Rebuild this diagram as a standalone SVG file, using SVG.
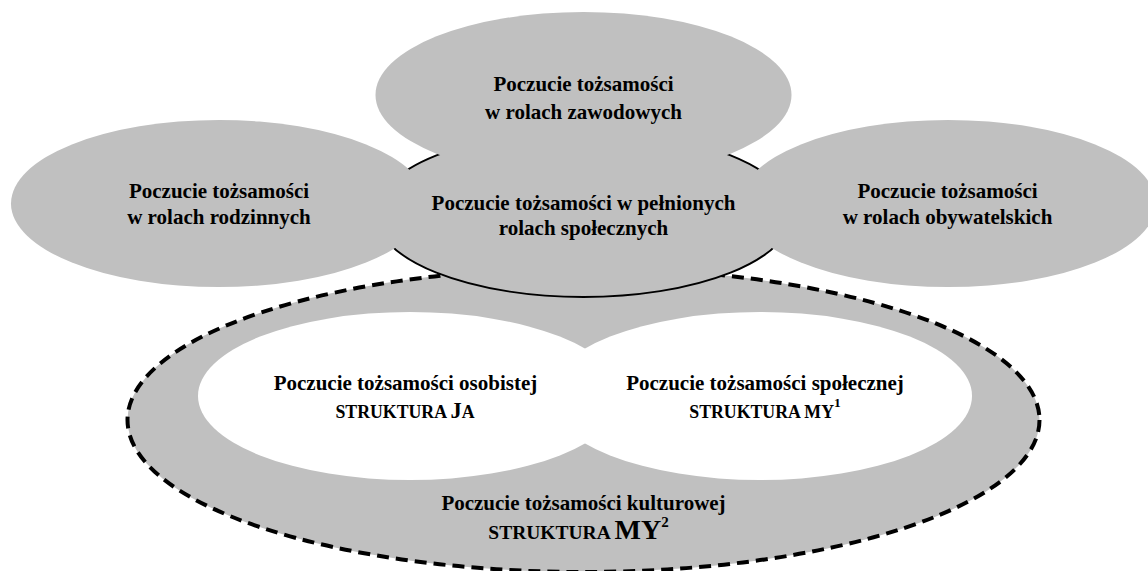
<svg xmlns="http://www.w3.org/2000/svg" width="1148" height="571" viewBox="0 0 1148 571">
  <style>
    .fill { fill: #c0c0c0; }
    .white { fill: #ffffff; }
    .outline { stroke: #000000; stroke-width: 1.9; }
    .dashed { stroke: #000000; stroke-width: 4; stroke-dasharray: 12 7; }
    text { font-family: "Liberation Serif", "Times New Roman", serif; font-weight: bold; font-size: 21px; fill: #000000; text-anchor: middle; }
    .sc { font-size: 17.8px; }
    .sup { font-size: 13.5px; }
  </style>
  <rect width="1148" height="571" fill="#ffffff"/>

  <!-- cultural identity: outer dashed ring -->
  <g id="culture">
    <ellipse class="fill dashed" cx="583.5" cy="420" rx="456" ry="152"/>
    <text x="583.5" y="510">Poczucie tożsamości kulturowej</text>
    <text x="578.5" y="539"><tspan font-size="19.5px">STRUKTURA </tspan><tspan font-size="28px">MY</tspan><tspan font-size="15px" dy="-12">2</tspan></text>
  </g>

  <!-- personal identity -->
  <g id="personal">
    <ellipse class="white" cx="410" cy="396" rx="212" ry="84"/>
    <text x="405.5" y="390">Poczucie tożsamości osobistej</text>
    <text x="405" y="418"><tspan class="sc">STRUKTURA </tspan><tspan font-size="22.5px">J</tspan><tspan class="sc">A</tspan></text>
  </g>

  <!-- social identity -->
  <g id="social">
    <ellipse class="white" cx="760" cy="396" rx="212" ry="84"/>
    <text x="765" y="390">Poczucie tożsamości społecznej</text>
    <text x="765" y="418"><tspan class="sc">STRUKTURA MY</tspan><tspan class="sup" dy="-11">1</tspan></text>
  </g>

  <!-- social roles: central outlined ellipse -->
  <g id="roles">
    <ellipse class="fill outline" cx="583.5" cy="214" rx="208" ry="83"/>
    <text x="583.5" y="209.5">Poczucie tożsamości w pełnionych</text>
    <text x="583.5" y="234.5">rolach społecznych</text>
  </g>

  <!-- family roles -->
  <g id="family">
    <ellipse class="fill" cx="219" cy="203.5" rx="208" ry="83.5"/>
    <text x="219" y="197.5">Poczucie tożsamości</text>
    <text x="219" y="223.5">w rolach rodzinnych</text>
  </g>

  <!-- professional roles -->
  <g id="professional">
    <ellipse class="fill" cx="583.5" cy="95" rx="208" ry="83"/>
    <text x="583.5" y="90.5">Poczucie tożsamości</text>
    <text x="583.5" y="119">w rolach zawodowych</text>
  </g>

  <!-- civic roles -->
  <g id="civic">
    <ellipse class="fill" cx="948" cy="203.5" rx="208" ry="83.5"/>
    <text x="947.5" y="197.5">Poczucie tożsamości</text>
    <text x="947.5" y="223.5">w rolach obywatelskich</text>
  </g>
</svg>
